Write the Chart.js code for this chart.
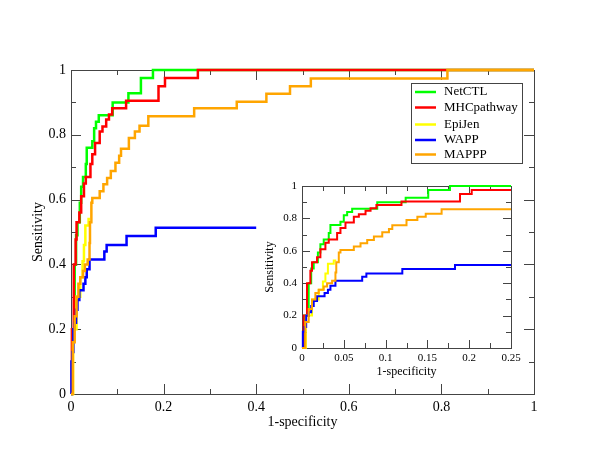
<!DOCTYPE html>
<html>
<head>
<meta charset="utf-8">
<script src="https://cdn.jsdelivr.net/npm/chart.js@4.4.1/dist/chart.umd.min.js"></script>
<style>
  body { margin: 0; background: #fff; }
  #wrap { position: relative; width: 600px; height: 464px; }
  #main { position: absolute; left: 0; top: 0; }
  #inset { position: absolute; left: 250px; top: 176px; }
</style>
</head>
<body>
<div id="wrap">
  <canvas id="main" width="600" height="464"></canvas>
  <canvas id="inset" width="275" height="210"></canvas>
</div>
<script>
// ROC curves, [1-specificity, sensitivity]; each point starts a horizontal step
const netctl = [[0,0],[0.0026,0.2],[0.008,0.40],[0.011,0.49],[0.014,0.53],[0.019,0.59],[0.022,0.64],
  [0.026,0.67],[0.032,0.71],[0.034,0.76],[0.046,0.78],[0.05,0.82],[0.054,0.84],[0.06,0.86],
  [0.09,0.90],[0.124,0.928],[0.151,0.975],[0.177,1],[1,1]];
const mhcpathway = [[0,0],[0.002,0.2],[0.006,0.40],[0.01,0.477],[0.012,0.53],[0.018,0.56],[0.022,0.61],
  [0.028,0.65],[0.032,0.67],[0.042,0.71],[0.046,0.74],[0.052,0.775],[0.062,0.81],[0.068,0.826],
  [0.076,0.847],[0.082,0.863],[0.089,0.882],[0.119,0.905],[0.189,0.95],[0.203,0.975],[0.274,1],[1,1]];
const epijen = [[0,0],[0.0046,0.2],[0.012,0.30],[0.02,0.36],[0.025,0.41],[0.028,0.46],[0.031,0.52],
  [0.038,0.54],[0.041,0.54]];
const wapp = [[0,0],[0.001,0.1],[0.003,0.13],[0.005,0.2],[0.008,0.22],[0.011,0.26],[0.014,0.29],
  [0.018,0.32],[0.027,0.34],[0.031,0.36],[0.034,0.385],[0.04,0.415],[0.072,0.44],[0.077,0.46],
  [0.12,0.488],[0.183,0.513],[0.4,0.513]];
const mappp = [[0,0],[0.004,0.16],[0.008,0.24],[0.012,0.30],[0.016,0.34],[0.02,0.36],[0.026,0.38],
  [0.03,0.40],[0.036,0.415],[0.04,0.466],[0.041,0.53],[0.044,0.59],[0.046,0.605],[0.062,0.626],
  [0.07,0.647],[0.078,0.667],[0.086,0.688],[0.096,0.714],[0.104,0.735],[0.108,0.757],[0.125,0.79],
  [0.138,0.81],[0.148,0.828],[0.167,0.857],[0.266,0.882],[0.358,0.902],[0.422,0.927],[0.473,0.95],
  [0.518,0.974],[0.813,1],[1,1]];

const seriesLabels = ['NetCTL', 'MHCpathway', 'EpiJen', 'WAPP', 'MAPPP'];
const seriesData = [netctl, mhcpathway, epijen, wapp, mappp];
const seriesColors = ['#00ff00', '#ff0000', '#ffff00', '#0000ff', '#ffa500'];

const mainXTicks = 0.2, mainYTicks = 0.2;
const insetXTicks = 0.05, insetYTicks = 0.2;

const SERIF = "'Liberation Serif', 'Times New Roman', serif";
const AXIS = '#444';
const fmt = v => String(parseFloat(Number(v).toFixed(4)));

function makeDatasets(width) {
  return seriesData.map((pts, i) => ({
    label: seriesLabels[i],
    data: pts.map(p => ({ x: p[0], y: p[1] })),
    borderColor: seriesColors[i],
    borderWidth: width,
    pointRadius: 0,
    stepped: 'before',
    fill: false,
    order: seriesData.length - i,
    borderJoinStyle: 'miter',
    clip: { left: 3, top: 3, right: 0, bottom: 3 }
  }));
}

// frame + inward ticks on all four sides
const frameTicks = {
  id: 'frameTicks',
  beforeDatasetsDraw(chart, args, o) {
    const { ctx, chartArea: a, scales: { x, y } } = chart;
    ctx.save();
    ctx.strokeStyle = AXIS;
    ctx.lineWidth = 1;
    ctx.strokeRect(a.left + 0.5, a.top + 0.5, a.right - a.left, a.bottom - a.top);
    ctx.beginPath();
    const nx = Math.round((x.max - x.min) / o.xMinor);
    for (let i = 0; i <= nx; i++) {
      const px = Math.round(x.getPixelForValue(x.min + i * o.xMinor)) + 0.5;
      const len = i % 2 === 0 ? o.major : o.minor;
      ctx.moveTo(px, a.bottom); ctx.lineTo(px, a.bottom - len);
      ctx.moveTo(px, a.top); ctx.lineTo(px, a.top + len);
    }
    const ny = Math.round((y.max - y.min) / o.yMinor);
    for (let i = 0; i <= ny; i++) {
      const py = Math.round(y.getPixelForValue(y.min + i * o.yMinor)) + 0.5;
      const len = i % 2 === 0 ? o.major : o.minor;
      ctx.moveTo(a.left, py); ctx.lineTo(a.left + len, py);
      ctx.moveTo(a.right, py); ctx.lineTo(a.right - len, py);
    }
    ctx.stroke();
    ctx.restore();
  }
};

const boxLegend = {
  id: 'boxLegend',
  afterDraw(chart, args, o) {
    if (!o.show) return;
    const ctx = chart.ctx;
    ctx.save();
    ctx.fillStyle = '#fff';
    ctx.fillRect(o.x, o.y, o.w, o.h);
    ctx.strokeStyle = AXIS;
    ctx.lineWidth = 1;
    ctx.strokeRect(o.x + 0.5, o.y + 0.5, o.w, o.h);
    ctx.font = '13px ' + SERIF;
    ctx.textBaseline = 'middle';
    seriesLabels.forEach((lab, i) => {
      const yy = o.rows[i];
      ctx.strokeStyle = seriesColors[i];
      ctx.lineWidth = 2.5;
      ctx.beginPath();
      ctx.moveTo(o.x + 4, yy);
      ctx.lineTo(o.x + 25, yy);
      ctx.stroke();
      ctx.fillStyle = '#000';
      ctx.fillText(lab, o.x + 33, yy);
    });
    ctx.restore();
  }
};

function axis(opts) {
  return {
    type: 'linear',
    position: opts.position,
    min: 0,
    max: opts.max,
    grid: { display: false, drawTicks: false },
    border: { display: false },
    ticks: {
      stepSize: opts.step, padding: opts.pad, color: '#000', autoSkip: false, maxRotation: 0,
      font: { family: SERIF, size: opts.size }, callback: fmt
    },
    title: {
      display: true, text: opts.title, color: '#000',
      font: { family: SERIF, size: opts.titleSize }, padding: opts.titlePad
    },
    afterFit: s => {
      if (opts.position === 'bottom') s.height = opts.fit; else s.width = opts.fit;
      s.paddingLeft = s.paddingRight = s.paddingTop = s.paddingBottom = 0;
    }
  };
}

Chart.defaults.font.family = SERIF;

new Chart(document.getElementById('main'), {
  type: 'line',
  data: { datasets: makeDatasets(2.5) },
  options: {
    responsive: false,
    animation: false,
    layout: { padding: { left: 0, top: 70, right: 66, bottom: 0 } },
    scales: {
      x: axis({ position: 'bottom', max: 1, step: mainXTicks, pad: 5, size: 14, title: '1-specificity',
        titleSize: 14, titlePad: { top: 0, bottom: 33 }, fit: 70 }),
      y: axis({ position: 'left', max: 1, step: mainYTicks, pad: 5, size: 14, title: 'Sensitivity',
        titleSize: 14, titlePad: { top: 30, bottom: 0 }, fit: 71 })
    },
    plugins: {
      legend: { display: false },
      tooltip: { enabled: false },
      frameTicks: { major: 10, minor: 5, xMinor: mainXTicks / 2, yMinor: mainYTicks / 2 },
      boxLegend: { show: true, x: 411, y: 83, w: 111, h: 80, rows: [92, 107.5, 124.5, 140, 154.5] }
    }
  },
  plugins: [frameTicks, boxLegend]
});

new Chart(document.getElementById('inset'), {
  type: 'line',
  data: { datasets: makeDatasets(2) },
  options: {
    responsive: false,
    animation: false,
    layout: { padding: { left: 0, top: 10, right: 14, bottom: 0 } },
    scales: {
      x: axis({ position: 'bottom', max: 0.25, step: insetXTicks, pad: 4, size: 11, title: '1-specificity',
        titleSize: 12, titlePad: { top: 0, bottom: 7 }, fit: 38 }),
      y: axis({ position: 'left', max: 1, step: insetYTicks, pad: 5, size: 11, title: 'Sensitivity',
        titleSize: 12, titlePad: { top: 13, bottom: 0 }, fit: 52 })
    },
    plugins: {
      legend: { display: false },
      tooltip: { enabled: false },
      frameTicks: { major: 8, minor: 5, xMinor: insetXTicks / 2, yMinor: insetYTicks / 2 },
      boxLegend: { show: false }
    }
  },
  plugins: [frameTicks, boxLegend]
});
</script>
</body>
</html>
